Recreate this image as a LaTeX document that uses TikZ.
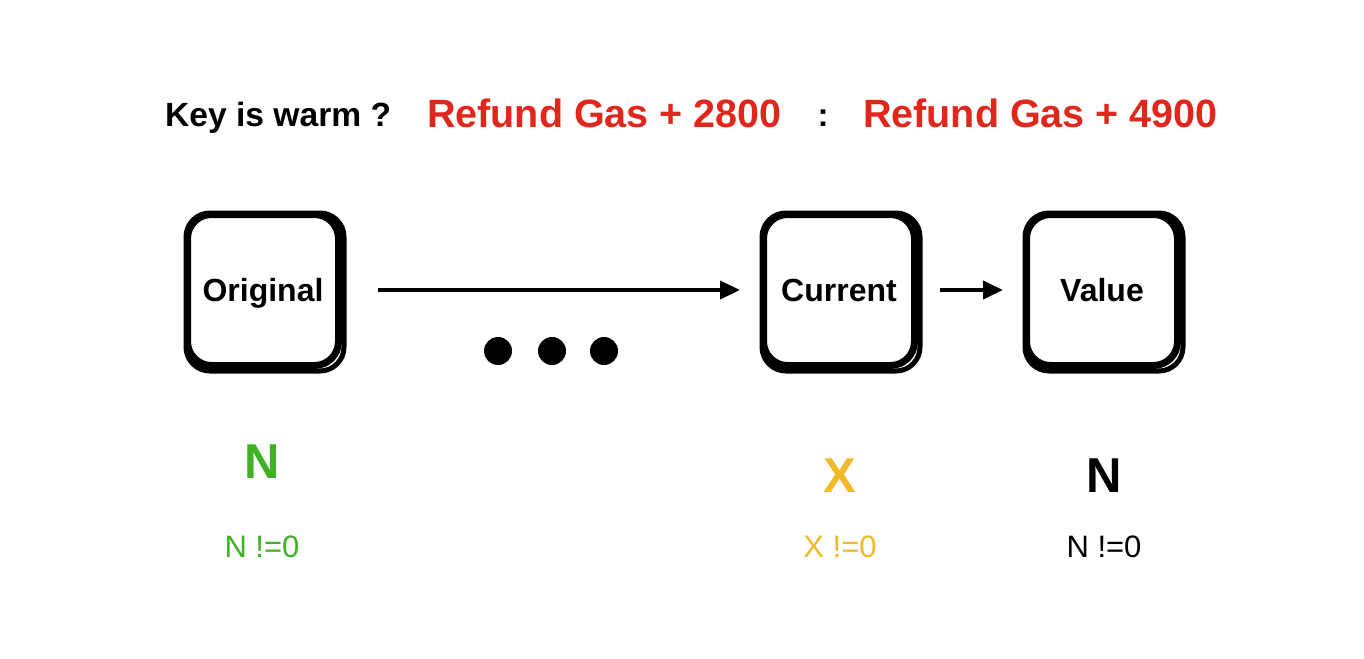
\documentclass[tikz,border=0pt]{standalone}
\usepackage{fontspec}
\setmainfont{Liberation Sans}
\usetikzlibrary{arrows.meta}
\definecolor{kred}{HTML}{E1261C}
\definecolor{kgreen}{HTML}{3FB223}
\definecolor{korange}{HTML}{F2B92B}
\tikzset{
  box/.style={draw=black, line width=7pt, rounded corners=24pt, minimum size=151pt,
    inner sep=0pt, font=\fontsize{32}{38}\selectfont\bfseries,
    text height=22pt, text depth=0pt},
  rough/.style={draw=black, line width=5pt, rounded corners=24pt},
  arr/.style={line width=4pt, -{Triangle[length=20pt,width=18pt]}},
  dotn/.style={circle, fill=black, minimum size=28pt, inner sep=0pt},
  lbl/.style={anchor=base, inner sep=0pt},
}
\begin{document}
\begin{tikzpicture}[x=1pt,y=-1pt]
\useasboundingbox[fill=white] (0,0) rectangle (1364,658);
% title line
\node[lbl, anchor=base west, font=\fontsize{33.6}{40}\selectfont\bfseries] (q) at (165,127) {Key is warm ?};
\node[lbl, anchor=base west, text=kred, font=\fontsize{39.5}{46}\selectfont\bfseries] (r1) at (427,128) {Refund Gas + 2800};
\node[lbl, font=\fontsize{33}{40}\selectfont\bfseries] (colon) at (823,127) {:};
\node[lbl, anchor=base west, text=kred, font=\fontsize{39.5}{46}\selectfont\bfseries] (r2) at (863,128) {Refund Gas + 4900};
% boxes
\node[box] (orig) at (263,290) {Original};
\node[box] (cur) at (839,290) {Current};
\node[box] (val) at (1102,290) {Value};
\foreach \b in {orig,cur,val}{
  \draw[rough] ([shift={(2,2)}]\b.south west) rectangle ([shift={(2,2)}]\b.north east);
}
% arrows
\draw[arr] ([xshift=36pt]orig.east) -- ([xshift=-20pt]cur.west);
\draw[arr] ([xshift=22pt]cur.east) -- ([xshift=-20pt]val.west);
% dots
\node[dotn] (d1) at (498,351) {};
\node[dotn] (d2) at (552,351) {};
\node[dotn] (d3) at (604,351) {};
% labels below
\node[lbl, text=kgreen, font=\fontsize{49}{58}\selectfont\bfseries] (n1) at (262,478) {N};
\node[lbl, text=korange, font=\fontsize{49}{58}\selectfont\bfseries] (x1) at (840,492) {X};
\node[lbl, text=black, font=\fontsize{49}{58}\selectfont\bfseries] (n2) at (1104,492) {N};
\node[lbl, text=kgreen, font=\fontsize{31}{38}\selectfont] (c1) at (262,557) {N !=0};
\node[lbl, text=korange, font=\fontsize{31}{38}\selectfont] (c2) at (840,557) {X !=0};
\node[lbl, text=black, font=\fontsize{31}{38}\selectfont] (c3) at (1104,557) {N !=0};
\end{tikzpicture}
\end{document}
